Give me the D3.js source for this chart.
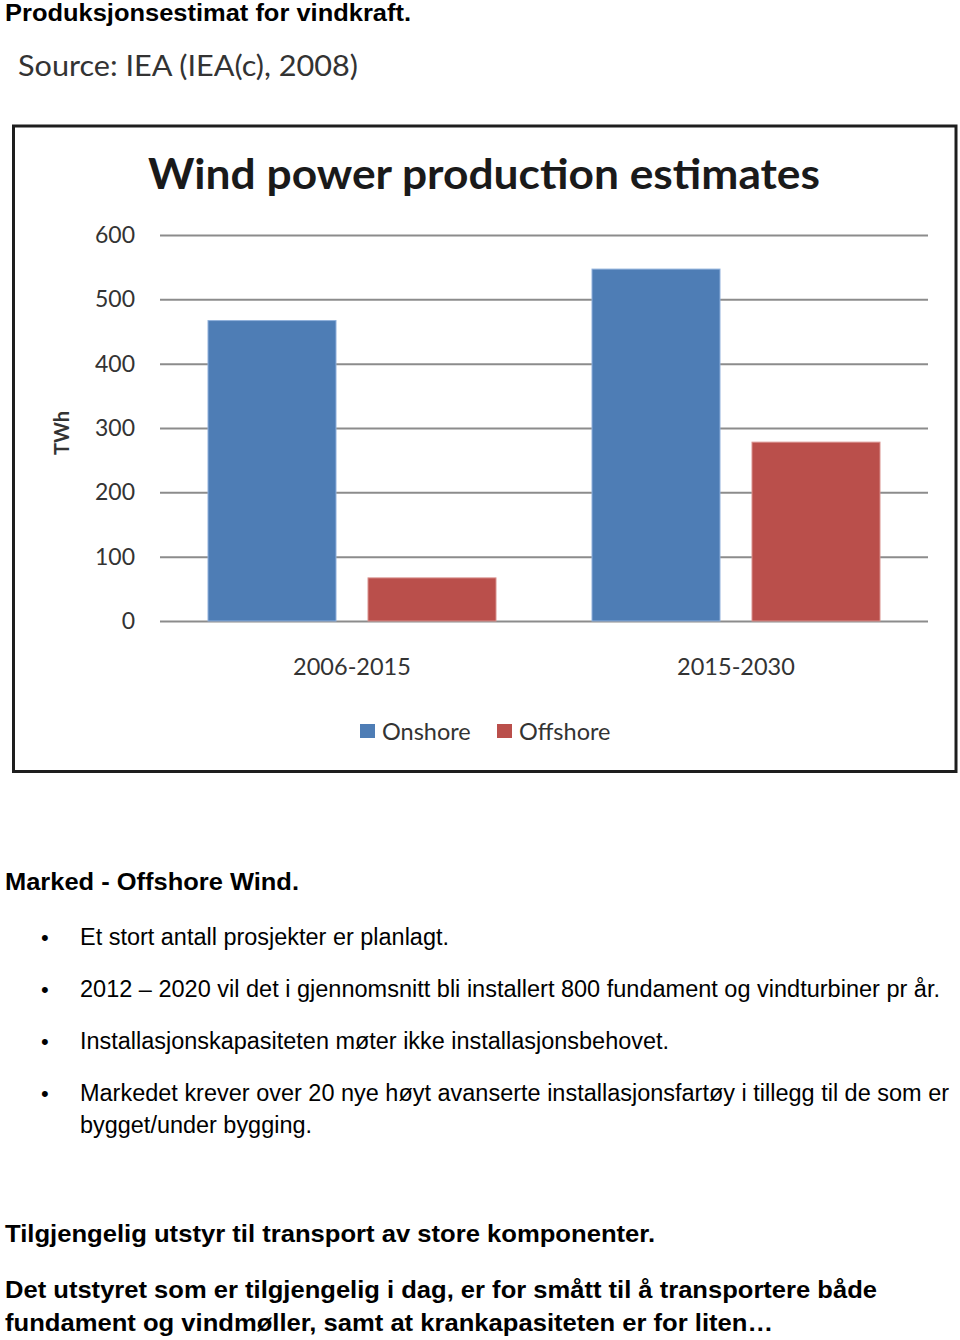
<!DOCTYPE html>
<html>
<head>
<meta charset="utf-8">
<script src="https://cdn.jsdelivr.net/npm/d3@7"></script>
<style>
  html, body { margin: 0; padding: 0; background: #fff; }
  svg { display: block; }
</style>
</head>
<body>
<script>
// ---- data ----
const categories = ["2006-2015", "2015-2030"];
const seriesNames = ["Onshore", "Offshore"];
const onshore = [467, 547];
const offshore = [67, 278];
const yTicks = [0, 100, 200, 300, 400, 500, 600];
const colors = ["#4e7db5", "#ba4f4b"];
const chartTitle = "Wind power production estimates";
const yLabel = "TWh";
const pageHeading = "Produksjonsestimat for vindkraft.";
const sourceText = "Source: IEA (IEA(c), 2008)";
const sectionHeading = "Marked - Offshore Wind.";
const bullets = [
  ["Et stort antall prosjekter er planlagt."],
  ["2012 \u2013 2020 vil det i gjennomsnitt bli installert 800 fundament og vindturbiner pr år."],
  ["Installasjonskapasiteten møter ikke installasjonsbehovet."],
  ["Markedet krever over 20 nye høyt avanserte installasjonsfartøy i tillegg til de som er", "bygget/under bygging."]
];
const closingHeading = "Tilgjengelig utstyr til transport av store komponenter.";
const closingText = ["Det utstyret som er tilgjengelig i dag, er for smått til å transportere både",
                     "fundament og vindmøller, samt at krankapasiteten er for liten\u2026"];

const rows = categories.map((c, i) => ({ cat: c, values: [onshore[i], offshore[i]] }));

const W = 960, H = 1340;
const svg = d3.select("body").append("svg").attr("width", W).attr("height", H);
svg.append("rect").attr("width", W).attr("height", H).attr("fill", "#fff");

function txt(x, y, s, o, len) {
  const t = svg.append("text").attr("x", x).attr("y", y).text(s)
    .attr("font-family", o.family).attr("font-size", o.size)
    .attr("font-weight", o.weight || "normal").attr("fill", o.fill || "#000");
  if (len) t.attr("textLength", len).attr("lengthAdjust", "spacingAndGlyphs");
  return t;
}
const arial = "'Liberation Sans', Arial, Helvetica, sans-serif";
const calib = "Lato, 'Open Sans', sans-serif";

// page heading + source
txt(5, 21, pageHeading, { family: arial, size: 23, weight: "bold" }, 406);
txt(18, 76, sourceText, { family: calib, size: 28, fill: "#333" }, 340);

// chart frame
svg.append("rect").attr("x", 13.5).attr("y", 126).attr("width", 942.5).attr("height", 645.5)
  .attr("fill", "none").attr("stroke", "#1e1e1e").attr("stroke-width", 3);

// chart title
txt(148, 189, chartTitle, { family: calib, size: 42, weight: "bold", fill: "#1a1a1a" }, 672);

// scales
const plotL = 160, plotR = 928, plotT = 235, plotB = 621;
const y = d3.scaleLinear().domain([0, 600]).range([plotB, plotT]);
const x0 = d3.scaleBand().domain(categories).range([plotL, plotR]).padding(0);
const x1 = d3.scaleBand().domain(seriesNames).range([48, x0.bandwidth() - 48]).paddingInner(0.2).paddingOuter(0);

// y axis with gridlines
const yAxis = svg.append("g").attr("transform", `translate(${plotL},0)`)
  .call(d3.axisLeft(y).tickValues(yTicks).tickSize(-(plotR - plotL)).tickPadding(25));
yAxis.select(".domain").remove();
yAxis.selectAll(".tick line").attr("stroke", "#8c8c8c").attr("stroke-width", 2);
yAxis.selectAll(".tick text").attr("font-family", calib).attr("font-size", 23).attr("fill", "#333");

// y label
svg.append("text").attr("transform", "translate(69,433) rotate(-90)")
  .attr("text-anchor", "middle").attr("font-family", calib).attr("font-weight", "bold")
  .attr("font-size", 20).attr("fill", "#333").text(yLabel);

// bars
const groups = svg.append("g").selectAll("g").data(rows).join("g")
  .attr("transform", d => `translate(${x0(d.cat)},0)`);
groups.selectAll("rect").data(d => d.values.map((v, i) => ({ key: seriesNames[i], v, i })))
  .join("rect")
  .attr("x", d => x1(d.key)).attr("width", x1.bandwidth())
  .attr("y", d => y(d.v)).attr("height", d => y(0) - y(d.v))
  .attr("fill", d => colors[d.i])
  .attr("stroke", d => d.i === 0 ? "#8fb0db" : "#d9918e").attr("stroke-width", 1);

// x axis labels
const xAxis = svg.append("g").attr("transform", `translate(0,${plotB})`)
  .call(d3.axisBottom(x0).tickSize(0).tickPadding(37));
xAxis.select(".domain").remove();
xAxis.selectAll(".tick text").attr("font-family", calib).attr("font-size", 23.5).attr("fill", "#333");

// legend
const legendX = [360, 497];
const legend = svg.append("g").selectAll("g").data(seriesNames).join("g")
  .attr("transform", (d, i) => `translate(${legendX[i]},724)`);
legend.append("rect").attr("width", 15).attr("height", 14).attr("fill", (d, i) => colors[i]);
legend.append("text").attr("x", 22).attr("y", 16).text(d => d)
  .attr("font-family", calib).attr("font-size", 23.5).attr("fill", "#333");

// body text
txt(5, 890, sectionHeading, { family: arial, size: 24, weight: "bold" }, 294);
const bulletY = [945, 997, 1049, 1101];
const bulletW = [[369], [860], [589], [869, 232]];
bullets.forEach((lines, i) => {
  txt(41, bulletY[i], "\u2022", { family: arial, size: 22 });
  lines.forEach((l, j) => txt(80, bulletY[i] + j * 32, l, { family: arial, size: 23 }, bulletW[i][j]));
});
txt(5, 1242, closingHeading, { family: arial, size: 24, weight: "bold" }, 650);
txt(5, 1298, closingText[0], { family: arial, size: 24, weight: "bold" }, 872);
txt(5, 1331, closingText[1], { family: arial, size: 24, weight: "bold" }, 768);
</script>
</body>
</html>
